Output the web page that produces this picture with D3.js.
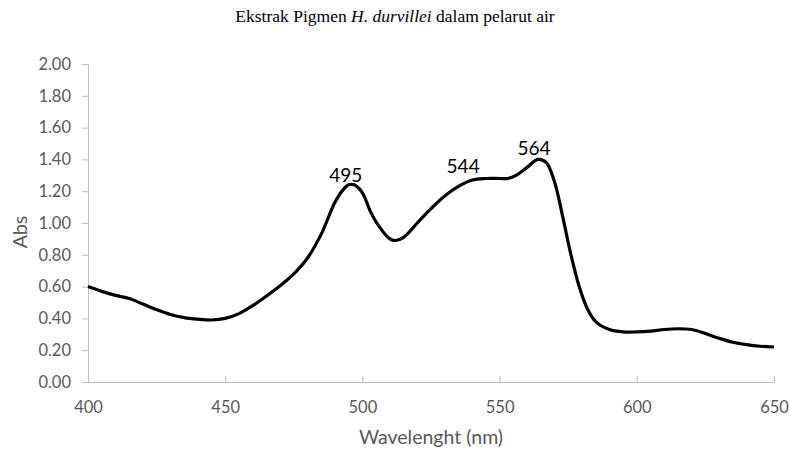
<!DOCTYPE html>
<html>
<head>
<meta charset="utf-8">
<script src="https://cdn.jsdelivr.net/npm/d3@7"></script>
<style>
  html, body { margin: 0; padding: 0; background: #fff; }
  svg { display: block; }
</style>
</head>
<body>
<svg id="chart" width="790" height="450"></svg>
<script>
// Data
const wavelengths = [400,405,410,415,420,425,430,435,440,445,450,455,460,465,470,475,480,485,490,493,495,497,500,503,506,510,512,515,520,525,530,535,540,545,550,553,556,560,564,567,570,573,576,579,582,585,590,595,600,605,610,615,620,625,630,635,640,645,650];
const absorbance  = [0.60,0.57,0.545,0.525,0.49,0.455,0.425,0.405,0.395,0.39,0.40,0.43,0.48,0.54,0.605,0.68,0.78,0.93,1.13,1.21,1.24,1.24,1.19,1.07,0.98,0.90,0.89,0.91,1.00,1.09,1.17,1.23,1.27,1.28,1.28,1.28,1.30,1.35,1.40,1.38,1.26,1.04,0.80,0.60,0.46,0.38,0.33,0.315,0.315,0.32,0.33,0.335,0.33,0.305,0.275,0.25,0.235,0.225,0.22];
const xTicks = [400,450,500,550,600,650];
const yTicks = [0,0.2,0.4,0.6,0.8,1.0,1.2,1.4,1.6,1.8,2.0];
const peakLabels = ["495","544","564"];
const peakX = [495,544,564];
const peakY = [1.24,1.28,1.40];

const svg = d3.select("#chart");
const mLeft = 88, mRight = 774, mTop = 64, mBottom = 382;
const x = d3.scaleLinear().domain([400,650]).range([mLeft,mRight]);
const y = d3.scaleLinear().domain([0,2]).range([mBottom,mTop]);

const axisColor = "#bfbfbf";
const textColor = "#595959";
const font = "Lato, 'Noto Sans', sans-serif";

// Title
const title = svg.append("text")
  .attr("x", 395).attr("y", 22)
  .attr("text-anchor", "middle")
  .attr("font-family", "'Liberation Serif', 'Times New Roman', serif")
  .attr("font-size", 17.5)
  .attr("fill", "#000");
title.append("tspan").text("Ekstrak Pigmen ");
title.append("tspan").attr("font-style", "italic").text("H. durvillei");
title.append("tspan").text(" dalam pelarut air");

// Y axis
const yAxis = svg.append("g")
  .attr("transform", `translate(${mLeft},0)`)
  .call(d3.axisLeft(y).tickValues(yTicks).tickFormat(d3.format(".2f")).tickSize(6).tickPadding(11));
yAxis.select(".domain").attr("stroke", axisColor);
yAxis.selectAll(".tick line").attr("stroke", axisColor);
yAxis.selectAll(".tick text").attr("fill", textColor).attr("font-family", font).attr("font-size", 16.5);

// X axis
const xAxis = svg.append("g")
  .attr("transform", `translate(0,${mBottom})`)
  .call(d3.axisBottom(x).tickValues(xTicks).tickFormat(d3.format("d")).tickSizeInner(-6).tickSizeOuter(0).tickPadding(19));
xAxis.select(".domain").attr("stroke", axisColor);
xAxis.selectAll(".tick line").attr("stroke", axisColor);
xAxis.selectAll(".tick text").attr("fill", textColor).attr("font-family", font).attr("font-size", 16.5);

// Axis titles
svg.append("text")
  .attr("x", (mLeft+mRight)/2).attr("y", 444)
  .attr("text-anchor", "middle")
  .attr("font-family", font).attr("font-size", 19.5)
  .attr("fill", textColor)
  .text("Wavelenght (nm)");

svg.append("text")
  .attr("transform", "translate(27,232) rotate(-90)")
  .attr("text-anchor", "middle")
  .attr("font-family", font).attr("font-size", 19.5)
  .attr("fill", textColor)
  .text("Abs");

// Line
const data = wavelengths.map((w,i) => ({w, a: absorbance[i]}));
svg.append("path")
  .datum(data)
  .attr("fill", "none")
  .attr("stroke", "#000")
  .attr("stroke-width", 3.2)
  .attr("stroke-linejoin", "round")
  .attr("d", d3.line().x(d => x(d.w)).y(d => y(d.a)).curve(d3.curveCatmullRom.alpha(0.5)));

// Peak labels
const labelDx = [-3, -20, -4];
const labelDy = [-3, -5, -4];
svg.selectAll(".peak")
  .data(peakLabels)
  .enter().append("text")
  .attr("class", "peak")
  .attr("x", (d,i) => x(peakX[i]))
  .attr("y", (d,i) => y(peakY[i]))
  .attr("dx", (d,i) => labelDx[i])
  .attr("dy", (d,i) => labelDy[i])
  .attr("text-anchor", "middle")
  .attr("font-family", font).attr("font-size", 19)
  .attr("fill", "#000")
  .text(d => d);
</script>
</body>
</html>
